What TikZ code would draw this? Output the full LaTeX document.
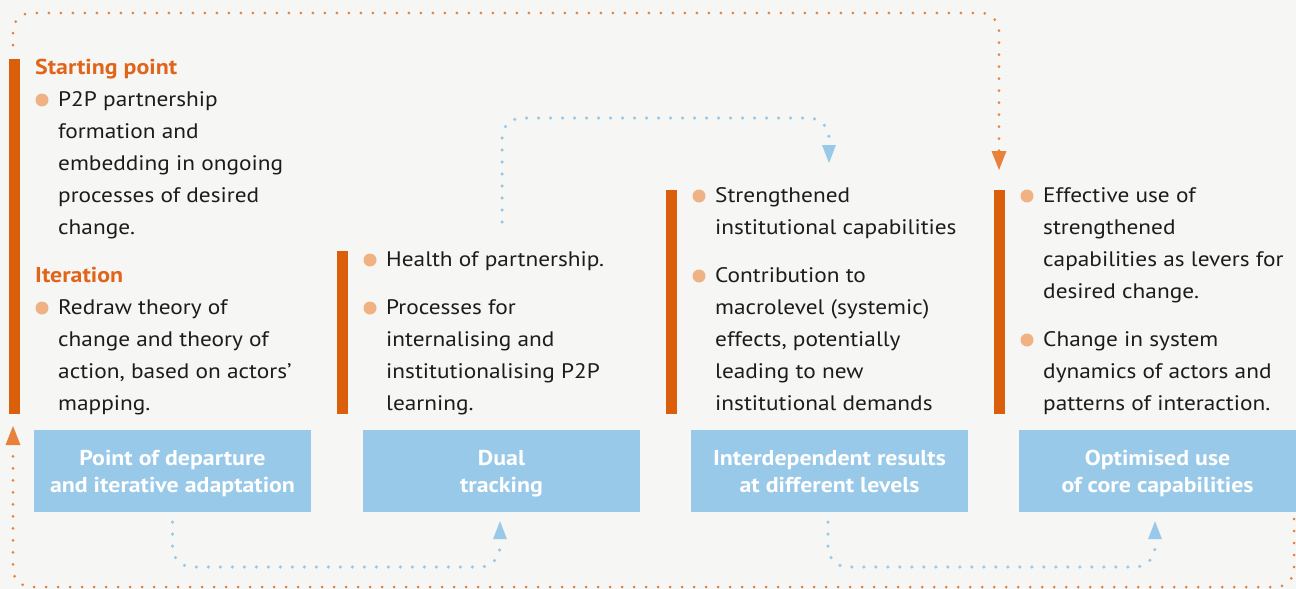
\documentclass[tikz,border=0pt]{standalone}
\usepackage{fontspec}
\setmainfont{PT Sans}[FakeStretch=1.11]
\usetikzlibrary{arrows.meta}

\definecolor{paper}{HTML}{F6F6F4}
\definecolor{ink}{HTML}{1C1C1C}
\definecolor{barorange}{HTML}{DB5E0B}
\definecolor{headorange}{HTML}{E0641A}
\definecolor{looporange}{HTML}{E8823A}
\definecolor{bulletorange}{HTML}{F0B185}
\definecolor{boxblue}{HTML}{98C9E8}

% fixed line extents so that both text lines sit at the same height in every box
\newcommand{\boxtop}{\rule{0pt}{22pt}}
\newcommand{\boxbot}{\rule[-7pt]{0pt}{0pt}}

\tikzset{
  bar/.style={fill=barorange, draw=none},
  stagebox/.style={fill=boxblue, text=white, align=center, inner sep=0pt,
    minimum width=277pt, minimum height=82pt,
    font=\bfseries\fontsize{21.5}{27}\selectfont},
  itemtext/.style={anchor=north west, align=left, inner sep=0pt, text=ink,
    font=\fontsize{21}{32}\selectfont},
  heading/.style={anchor=base west, inner sep=0pt, text=headorange,
    font=\bfseries\fontsize{21.5}{32}\selectfont},
  bulletdot/.style={circle, fill=bulletorange, minimum size=13pt, inner sep=0pt},
  orangeloop/.style={draw=looporange, line width=3pt, line cap=round,
    dash pattern=on 0pt off 12pt, rounded corners=18pt,
    -{Triangle[width=15pt,length=19pt,line width=0pt,fill=looporange]}},
  blueloop/.style={draw=boxblue, line width=3.5pt, line cap=round,
    dash pattern=on 0pt off 12pt, rounded corners=20pt,
    -{Triangle[width=14pt,length=18pt,line width=0pt,fill=boxblue]}}
}

\begin{document}
\begin{tikzpicture}[x=1pt,y=-1pt]
\useasboundingbox (0,0) rectangle (1296,589);
\fill[paper] (0,0) rectangle (1296,589);

% vertical accent bars
\fill[bar] (9,59) rectangle (20,414);
\fill[bar] (337,251) rectangle (348,414);
\fill[bar] (666,190) rectangle (677,414);
\fill[bar] (994,190) rectangle (1005,414);

% stage boxes
\node[stagebox] (b1) at (172.5,471) {\boxtop Point of departure\\and iterative adaptation\boxbot};
\node[stagebox] (b2) at (501.5,471) {\boxtop Dual\\tracking\boxbot};
\node[stagebox] (b3) at (829.5,471) {\boxtop Interdependent results\\at different levels\boxbot};
\node[stagebox] (b4) at (1157.5,471) {\boxtop Optimised use\\of core capabilities\boxbot};

% column 1
\node[heading] (h1) at (35,74) {Starting point};
\node[bulletdot] (d11) at (42,100) {};
\node[itemtext] (t11) at (58,83.6) {\strut P2P partnership\\formation and\\embedding in ongoing\\processes of desired\\change.};
\node[heading] (h2) at (35,282) {Iteration};
\node[bulletdot] (d12) at (42,308) {};
\node[itemtext] (t12) at (58,291.6) {\strut Redraw theory of\\change and theory of\\action, based on actors’\\mapping.};

% column 2
\node[bulletdot] (d21) at (370,260) {};
\node[itemtext] (t21) at (386,243.6) {\strut Health of partnership.};
\node[bulletdot] (d22) at (370,308) {};
\node[itemtext] (t22) at (386,291.6) {\strut Processes for\\internalising and\\institutionalising P2P\\learning.};

% column 3
\node[bulletdot] (d31) at (699,196) {};
\node[itemtext] (t31) at (715,179.6) {\strut Strengthened\\institutional capabilities};
\node[bulletdot] (d32) at (699,276) {};
\node[itemtext] (t32) at (715,259.6) {\strut Contribution to\\macrolevel (systemic)\\effects, potentially\\leading to new\\institutional demands};

% column 4
\node[bulletdot] (d41) at (1027,196) {};
\node[itemtext] (t41) at (1043,179.6) {\strut Effective use of\\strengthened\\capabilities as levers for\\desired change.};
\node[bulletdot] (d42) at (1027,340) {};
\node[itemtext] (t42) at (1043,323.6) {\strut Change in system\\dynamics of actors and\\patterns of interaction.};

% loose ends of the connectors
\coordinate (loopin)  at (1294,519);
\coordinate (loopout) at (13,426);
\coordinate (topin)   at (13,45);
\coordinate (topout)  at (999,170);
\coordinate (c2top)   at (502,222);
\coordinate (c3top)   at (829,163);

% feedback loops
\draw[orangeloop] (loopin) |- (13,587) -- (loopout);
\draw[orangeloop] (topin) |- (999,13) -- (topout);

% links between stages
\draw[blueloop] ([yshift=-10pt]b1.south) |- (500,567) -- ([xshift=-1.5pt,yshift=-9pt]b2.south);
\draw[blueloop] ([xshift=-1.5pt,yshift=-10pt]b3.south) |- (1155,567) -- ([xshift=-2.5pt,yshift=-9pt]b4.south);
\draw[blueloop] (c2top) |- (829,118) -- (c3top);
\end{tikzpicture}
\end{document}
